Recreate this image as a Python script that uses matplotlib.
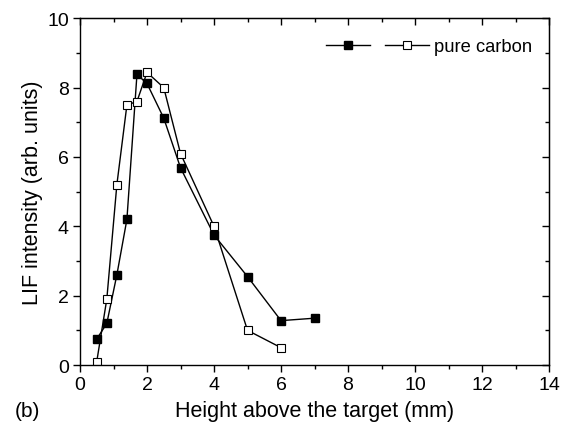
import matplotlib.pyplot as plt
from matplotlib.ticker import MultipleLocator

plt.rcParams['font.family'] = ['Liberation Sans', 'DejaVu Sans']

# filled squares series (unlabelled in legend)
x_filled = [0.5, 0.8, 1.1, 1.4, 1.7, 2.0, 2.5, 3.0, 4.0, 5.0, 6.0, 7.0]
y_filled = [0.75, 1.2, 2.6, 4.2, 8.38, 8.12, 7.12, 5.69, 3.75, 2.55, 1.28, 1.35]

# open squares series: pure carbon
x_open = [0.5, 0.8, 1.1, 1.4, 1.7, 2.0, 2.5, 3.0, 4.0, 5.0, 6.0]
y_open = [0.1, 1.9, 5.2, 7.5, 7.6, 8.44, 8.0, 6.1, 4.0, 1.0, 0.5]

fig = plt.figure(figsize=(5.67, 4.31), dpi=100)
ax = fig.add_axes([0.1411, 0.1508, 0.8272, 0.8044])

l1, = ax.plot(x_filled, y_filled, color='black', lw=1.0, marker='s',
              markersize=5.8, markerfacecolor='black', markeredgecolor='black')
l2, = ax.plot(x_open, y_open, color='black', lw=1.0, marker='s',
              markersize=5.8, markerfacecolor='white', markeredgecolor='black',
              markeredgewidth=0.8)

ax.set_xlim(0, 14)
ax.set_ylim(0, 10)
ax.xaxis.set_major_locator(MultipleLocator(2))
ax.xaxis.set_minor_locator(MultipleLocator(1))
ax.yaxis.set_major_locator(MultipleLocator(2))
ax.yaxis.set_minor_locator(MultipleLocator(1))
# bottom/left ticks point out, top/right mirror ticks point in
ax.tick_params(which='both', direction='out', labelsize=14, width=1, pad=3)
ax.tick_params(which='major', length=5)
ax.tick_params(which='minor', length=3)
ax2 = ax.secondary_xaxis('top')
ax2.xaxis.set_major_locator(MultipleLocator(2))
ax2.xaxis.set_minor_locator(MultipleLocator(1))
ax2.tick_params(which='both', direction='in', labeltop=False, width=1)
ax2.tick_params(which='major', length=5)
ax2.tick_params(which='minor', length=3)
ax3 = ax.secondary_yaxis('right')
ax3.yaxis.set_major_locator(MultipleLocator(2))
ax3.yaxis.set_minor_locator(MultipleLocator(1))
ax3.tick_params(which='both', direction='in', labelright=False, width=1)
ax3.tick_params(which='major', length=5)
ax3.tick_params(which='minor', length=3)
for s in ax.spines.values():
    s.set_linewidth(1.0)

ax.set_xlabel('Height above the target (mm)', fontsize=15.5, labelpad=5)
ax.set_ylabel('LIF intensity (arb. units)', fontsize=15.5, labelpad=3)

ax.legend([l1, l2], ['', 'pure carbon'], ncol=2, frameon=False, fontsize=13.2,
          loc='upper right', handlelength=2.4, handletextpad=0.3,
          columnspacing=0.5, bbox_to_anchor=(1.0, 0.99))

fig.text(0.026, 0.032, '(b)', fontsize=15)

fig.savefig('out.png', dpi=100)
